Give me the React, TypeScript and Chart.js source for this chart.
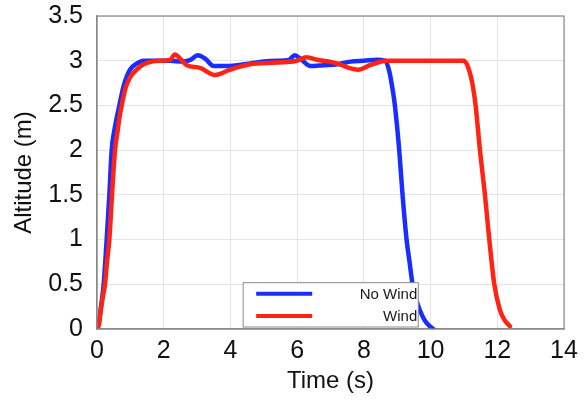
import { useEffect, useRef } from 'react';
import { Chart, registerables } from 'chart.js';

Chart.register(...registerables);

// ---- data ----
const noWindTime = [0, 0.06, 0.12, 0.2, 0.29, 0.37, 0.44, 0.52, 0.6, 0.67, 0.8, 0.99, 1.2, 1.4, 1.8, 2.2, 2.55, 2.8, 3.02, 3.25, 3.5, 3.8, 4.2, 4.6, 5.0, 5.4, 5.75, 5.93, 6.1, 6.4, 6.8, 7.2, 7.6, 8.0, 8.4, 8.63, 8.75, 8.83, 8.93, 9.06, 9.16, 9.28, 9.37, 9.46, 9.57, 9.68, 9.82, 9.95, 10.08];
const noWindAlt = [0, 0.08, 0.25, 0.5, 1.0, 1.5, 2.0, 2.22, 2.38, 2.5, 2.72, 2.9, 2.97, 3.0, 3.0, 3.0, 2.99, 3.01, 3.06, 3.02, 2.94, 2.94, 2.95, 2.97, 2.99, 3.0, 3.01, 3.06, 3.02, 2.94, 2.95, 2.96, 2.99, 3.0, 3.01, 3.0, 2.9, 2.75, 2.5, 2.0, 1.5, 1.0, 0.75, 0.5, 0.33, 0.21, 0.1, 0.04, 0.0];

const windTime = [0, 0.06, 0.11, 0.17, 0.24, 0.3, 0.37, 0.45, 0.54, 0.62, 0.68, 0.74, 0.86, 1.0, 1.19, 1.4, 1.64, 1.9, 2.19, 2.34, 2.5, 2.69, 3.09, 3.54, 3.99, 4.59, 5.39, 5.99, 6.28, 6.6, 6.98, 7.28, 7.55, 7.83, 8.18, 8.68, 9.2, 9.8, 10.4, 10.98, 11.1, 11.25, 11.35, 11.48, 11.63, 11.76, 11.91, 12.08, 12.22, 12.38];
const windAlt = [0, 0.05, 0.2, 0.35, 0.5, 0.75, 1.0, 1.5, 2.0, 2.22, 2.38, 2.5, 2.7, 2.82, 2.9, 2.96, 2.99, 3.0, 3.01, 3.07, 3.02, 2.95, 2.92, 2.84, 2.9, 2.96, 2.98, 3.0, 3.04, 3.01, 2.99, 2.96, 2.92, 2.9, 2.95, 3.0, 3.0, 3.0, 3.0, 3.0, 2.95, 2.75, 2.5, 2.0, 1.5, 1.0, 0.5, 0.21, 0.1, 0.03];

const seriesLabels = ['No Wind', 'Wind'];
const seriesColors = ['rgb(25,45,255)', 'rgb(255,35,20)'];
const xTitle = 'Time (s)';
const yTitle = 'Altitude (m)';
const xMin = 0, xMax = 14, xStep = 2;
const yMin = 0, yMax = 3.5, yStep = 0.5;

const FONT = '"Liberation Sans", Helvetica, Arial, sans-serif';

const toPoints = (xs: number[], ys: number[]) => xs.map((x, i) => ({ x, y: ys[i] }));

const boxPlugin = {
  id: 'boxBorder',
  afterDraw(chart: any) {
    const { ctx, chartArea: a } = chart;
    ctx.save();
    ctx.strokeStyle = '#8a8a8a';
    ctx.lineWidth = 1.2;
    ctx.strokeRect(a.left, a.top, a.right - a.left, a.bottom - a.top);
    ctx.restore();
  },
};

const legendPlugin = {
  id: 'boxLegend',
  afterDraw(chart: any) {
    const { ctx, chartArea: a } = chart;
    const w = a.right - a.left;
    const h = a.bottom - a.top;
    const left = a.left + w * 0.313;
    const right = a.left + w * 0.688;
    const top = a.top + h * 0.852;
    const bottom = a.bottom - 2;
    ctx.save();
    ctx.fillStyle = '#ffffff';
    ctx.fillRect(left, top, right - left, bottom - top);
    ctx.strokeStyle = '#8a8a8a';
    ctx.lineWidth = 1;
    ctx.strokeRect(left, top, right - left, bottom - top);
    const rowH = (bottom - top) / 2;
    ctx.font = `15px ${FONT}`;
    ctx.textAlign = 'right';
    ctx.textBaseline = 'middle';
    chart.data.datasets.forEach((ds: any, i: number) => {
      const ly = top + rowH * (i + 0.5);
      ctx.strokeStyle = ds.borderColor;
      ctx.lineWidth = 4;
      ctx.beginPath();
      ctx.moveTo(left + 13, ly);
      ctx.lineTo(left + 69, ly);
      ctx.stroke();
      ctx.fillStyle = '#1a1a1a';
      ctx.fillText(ds.label, right - 1, ly + 1);
    });
    ctx.restore();
  },
};

export default function App() {
  const ref = useRef<HTMLCanvasElement | null>(null);
  useEffect(() => {
    if (!ref.current) return;
    const chart = new Chart(ref.current, {
      type: 'scatter',
      data: {
        datasets: [
          {
            label: seriesLabels[0],
            data: toPoints(noWindTime, noWindAlt),
            borderColor: seriesColors[0],
            backgroundColor: seriesColors[0],
            showLine: true,
            pointRadius: 0,
            borderWidth: 4.5,
            cubicInterpolationMode: 'monotone',
            borderCapStyle: 'round',
            borderJoinStyle: 'round',
            order: 2,
          },
          {
            label: seriesLabels[1],
            data: toPoints(windTime, windAlt),
            borderColor: seriesColors[1],
            backgroundColor: seriesColors[1],
            showLine: true,
            pointRadius: 0,
            borderWidth: 4.5,
            cubicInterpolationMode: 'monotone',
            borderCapStyle: 'round',
            borderJoinStyle: 'round',
            order: 1,
          },
        ],
      },
      options: {
        animation: false,
        responsive: false,
        devicePixelRatio: 1,
        layout: { padding: { left: 0, right: 24, top: 16, bottom: 0 } },
        plugins: { legend: { display: false }, tooltip: { enabled: false } },
        scales: {
          x: {
            type: 'linear',
            min: xMin,
            max: xMax,
            ticks: {
              stepSize: xStep,
              color: '#111',
              font: { family: FONT, size: 25 },
              padding: 7,
              maxRotation: 0,
              callback: (v: any) => String(v),
            },
            grid: { color: '#e4e4e4', lineWidth: 1, drawTicks: false },
            border: { color: '#8a8a8a', width: 1.2 },
            title: {
              display: true,
              text: xTitle,
              color: '#111',
              font: { family: FONT, size: 24 },
              padding: { top: 0, bottom: 5 },
            },
            afterFit: (s: any) => {
              s.height = 401 - 329;
              s.paddingLeft = 0;
              s.paddingRight = 0;
              s.paddingTop = 0;
              s.paddingBottom = 0;
            },
          },
          y: {
            type: 'linear',
            min: yMin,
            max: yMax,
            ticks: {
              stepSize: yStep,
              color: '#111',
              font: { family: FONT, size: 25 },
              padding: 14,
              callback: (v: any) => String(v),
            },
            grid: { color: '#e4e4e4', lineWidth: 1, drawTicks: false },
            border: { color: '#8a8a8a', width: 1.2 },
            title: {
              display: true,
              text: yTitle,
              color: '#111',
              font: { family: FONT, size: 24 },
              padding: { top: 10, bottom: 0 },
            },
            afterFit: (s: any) => {
              s.width = 97;
              s.paddingTop = 0;
              s.paddingBottom = 0;
              s.paddingLeft = 0;
              s.paddingRight = 0;
            },
          },
        },
      },
      plugins: [boxPlugin, legendPlugin],
    } as any);
    return () => chart.destroy();
  }, []);
  return (
    <div style={{ position: 'absolute', left: 0, top: 0, width: 588, height: 401, background: '#fff' }}>
      <canvas ref={ref} width={588} height={401} style={{ width: 588, height: 401 }} />
    </div>
  );
}
